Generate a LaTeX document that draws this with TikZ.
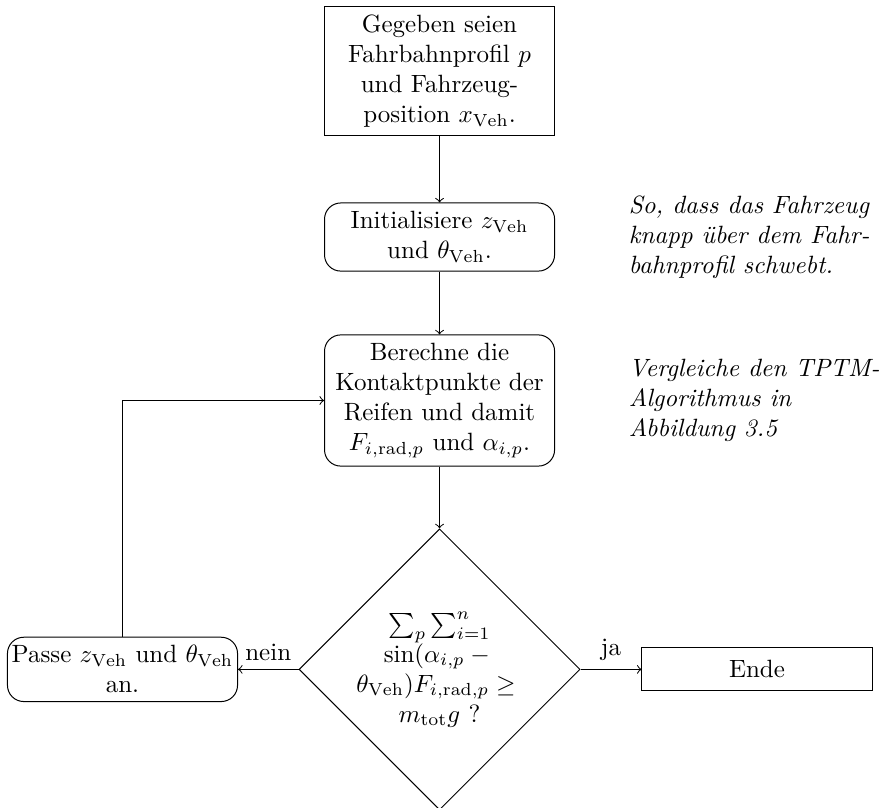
\documentclass[tikz,border=0pt]{standalone}
\usepackage{fontspec}
\usetikzlibrary{shapes.geometric}
\tikzset{
  startbox/.style={
    draw,
    rectangle,
    text width=3cm,
    align=center
  },
  proc/.style={startbox, rounded corners=6.5pt},
  endbox/.style={startbox, minimum height=17.2pt},
  decide/.style={
    draw,
    diamond,
    aspect=1,
    inner sep=0pt,
    minimum size=111pt,
    align=center
  },
  note/.style={font=\itshape, align=left, anchor=west},
  flow/.style={->},
  branchlabel/.style={midway, above}
}
\begin{document}
\begin{tikzpicture}[x=1cm,y=1cm]
\useasboundingbox (0,0) rectangle (12.441,-11.345);

% main column
\node[startbox] (given) at (6.179,-0.998) {Gegeben seien\\Fahrbahnprofil $p$\\und Fahrzeug-\\position $x_{\mathrm{Veh}}$.};
\node[proc] (init) at (6.179,-3.332) {Initialisiere $z_{\mathrm{Veh}}$\\und $\theta_{\mathrm{Veh}}$.};
\node[proc] (calc) at (6.179,-5.630) {Berechne die\\Kontaktpunkte der\\Reifen und damit\\$F_{i,\mathrm{rad},p}$ und $\alpha_{i,p}$.};
\node[decide] (check) at (6.179,-9.41) {$\sum_p\sum_{i=1}^n$\\$\sin(\alpha_{i,p}-{}$\\$\theta_{\mathrm{Veh}})F_{i,\mathrm{rad},p}\geq{}$\\$m_{\mathrm{tot}}g$ ?};

% branches
\node[proc] (adjust) at (1.722,-9.41) {\makebox[\linewidth][c]{Passe $z_{\mathrm{Veh}}$ und $\theta_{\mathrm{Veh}}$}\\an.};
\node[endbox] (done) at (10.642,-9.41) {Ende};

% side notes
\node[note] (hover) at (8.716,-3.332) {So, dass das Fahrzeug\\knapp über dem Fahr-\\bahnprofil schwebt.};
\node[note] (compare) at (8.716,-5.630) {Vergleiche den TPTM-\\Algorithmus in\\Abbildung 3.5};

\draw[flow] (given) -- (init);
\draw[flow] (init) -- (calc);
\draw[flow] (calc) -- (check);
\draw[flow] (check.west) -- node[branchlabel] {nein} (adjust.east);
\draw[flow] (check.east) -- node[branchlabel] {ja} (done.west);
\draw[flow] (adjust.north) |- (calc.west);

\end{tikzpicture}
\end{document}
